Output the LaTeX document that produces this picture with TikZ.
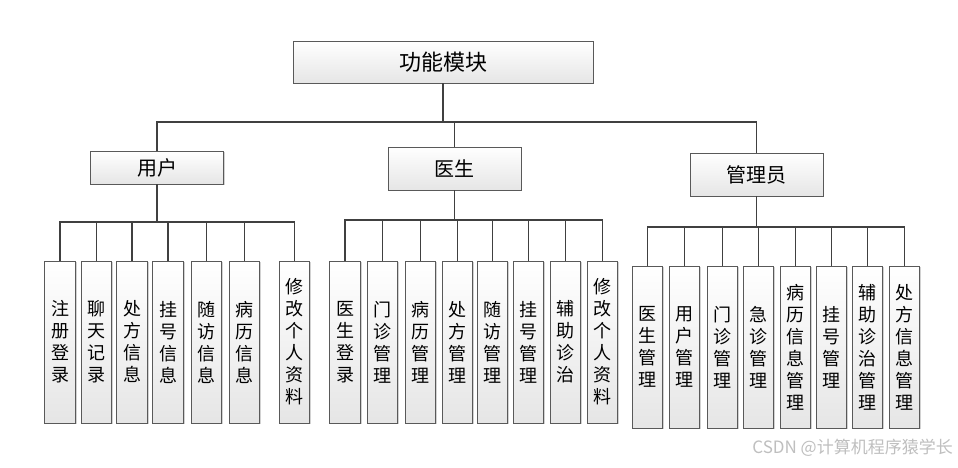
\documentclass[tikz,border=0pt]{standalone}
\usepackage{fontspec}
\setmainfont{Noto Sans CJK SC}
\usetikzlibrary{shadows}
\begin{document}
\begin{tikzpicture}[x=1pt,y=-1pt,
  box/.style={draw=gray!70!black, line width=0.8pt, top color=white, bottom color=gray!20,
    drop shadow={shadow xshift=1.3pt, shadow yshift=-1.3pt, opacity=0.35}, inner sep=0pt},
  conn/.style={draw=black!75, line width=1.4pt},
  leaf/.style={box, minimum width=30.5pt, minimum height=162pt, font=\fontsize{18}{22}\selectfont, align=center},
  mid/.style={box, minimum width=133pt, font=\fontsize{20}{24}\selectfont},
]
\useasboundingbox (0,0) rectangle (958,467);
\fill[white] (0,0) rectangle (958,467);
% root
\node[box, minimum width=300pt, minimum height=42pt, font=\fontsize{22}{26}\selectfont] (root) at (443,62) {功能模块};
% level 2
\node[mid, minimum height=33pt] (user) at (157,167.5) {用户};
\node[mid, minimum height=43pt] (doc) at (454.5,168.5) {医生};
\node[mid, minimum height=43pt] (adm) at (756.5,174.5) {管理员};
% bus coordinates
\coordinate (b0) at (0,122);
\coordinate (bu) at (0,222);
\coordinate (bd) at (0,220);
\coordinate (ba) at (0,227);
% user leaves
\node[leaf] (u1) at (60,342) {注\\册\\登\\录};
\node[leaf] (u2) at (96.5,342) {聊\\天\\记\\录};
\node[leaf] (u3) at (132,342) {处\\方\\信\\息};
\node[leaf] (u4) at (168,342) {挂\\号\\信\\息};
\node[leaf] (u5) at (206.5,342) {随\\访\\信\\息};
\node[leaf] (u6) at (244.5,342) {病\\历\\信\\息};
\node[leaf] (u7) at (294.5,342) {修\\改\\个\\人\\资\\料};
% doctor leaves
\node[leaf] (d1) at (345,342) {医\\生\\登\\录};
\node[leaf] (d2) at (382.5,342) {门\\诊\\管\\理};
\node[leaf] (d3) at (420.5,342) {病\\历\\管\\理};
\node[leaf] (d4) at (457.5,342) {处\\方\\管\\理};
\node[leaf] (d5) at (492.5,342) {随\\访\\管\\理};
\node[leaf] (d6) at (528.5,342) {挂\\号\\管\\理};
\node[leaf] (d7) at (565.5,342) {辅\\助\\诊\\治};
\node[leaf] (d8) at (602.5,342) {修\\改\\个\\人\\资\\料};
% admin leaves
\node[leaf] (a1) at (647.5,347) {医\\生\\管\\理};
\node[leaf] (a2) at (684.5,347) {用\\户\\管\\理};
\node[leaf] (a3) at (722.5,347) {门\\诊\\管\\理};
\node[leaf] (a4) at (758.5,347) {急\\诊\\管\\理};
\node[leaf] (a5) at (795.5,347) {病\\历\\信\\息\\管\\理};
\node[leaf] (a6) at (831.5,347) {挂\\号\\管\\理};
\node[leaf] (a7) at (867.5,347) {辅\\助\\诊\\治\\管\\理};
\node[leaf] (a8) at (904.5,347) {处\\方\\信\\息\\管\\理};
% connectors level 1
\draw[conn] (root.south) -- (root.south |- b0);
\draw[conn] (user.north) |- (adm.north |- b0) -- (adm.north);
\draw[conn] (doc.north) -- (doc.north |- b0);
% user connectors
\draw[conn] (user.south) -- (user.south |- bu);
\draw[conn] (u1.north) |- (u7.north |- bu) -- (u7.north);
\foreach \n in {u2,u3,u4,u5,u6} \draw[conn] (\n.north) -- (\n.north |- bu);
% doctor connectors
\draw[conn] (doc.south) -- (doc.south |- bd);
\draw[conn] (d1.north) |- (d8.north |- bd) -- (d8.north);
\foreach \n in {d2,d3,d4,d5,d6,d7} \draw[conn] (\n.north) -- (\n.north |- bd);
% admin connectors
\draw[conn] (adm.south) -- (adm.south |- ba);
\draw[conn] (a1.north) |- (a8.north |- ba) -- (a8.north);
\foreach \n in {a2,a3,a4,a5,a6,a7} \draw[conn] (\n.north) -- (\n.north |- ba);
% watermark
\node[font=\fontsize{17}{17}\selectfont, text=gray!50, anchor=east, inner sep=0pt] (wm) at (953,448) {CSDN @计算机程序猿学长};
\end{tikzpicture}
\end{document}
